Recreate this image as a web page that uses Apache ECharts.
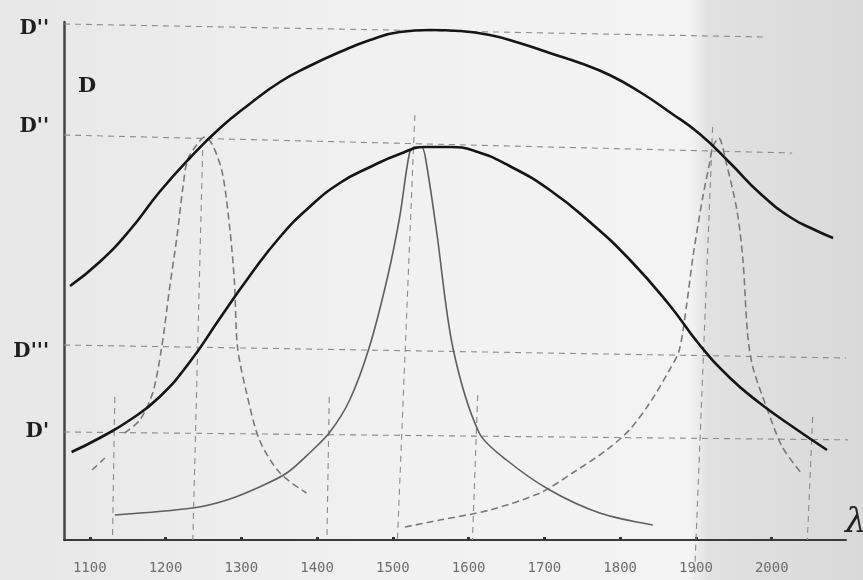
<!DOCTYPE html>
<html>
<head>
<meta charset="utf-8">
<script src="https://cdn.jsdelivr.net/npm/echarts@6/dist/echarts.min.js"></script>
<style>html,body{margin:0;padding:0;background:#ececec}#c{width:863px;height:580px}</style>
</head>
<body>
<div id="c"></div>
<script>
// ---- tick labels ----
const xTickValues = [1100, 1200, 1300, 1400, 1500, 1600, 1700, 1800, 1900, 2000];
const xTickLabels = ['1100', '1200', '1300', '1400', '1500', '1600', '1700', '1800', '1900', '2000'];
const yTickValues = [511, 413, 188, 108];
const yTickLabels = ["D''", "D''", "D'''", "D'"];

// ---- curves [lambda, D] ----
const upperCurve = [[1074,254],[1113,278],[1153,310],[1192,348],[1232,382],[1272,412],[1311,436],[1351,458],[1390,474],[1430,488],[1470,500],[1509,508],[1549,510],[1588,509],[1628,505],[1667,497],[1707,487],[1747,477],[1786,465],[1826,448],[1865,428],[1905,406],[1945,377],[1984,347],[2024,323],[2057,310],[2081,302]];
const lowerCurve = [[1076,88],[1113,102],[1153,120],[1192,143],[1232,178],[1272,222],[1311,264],[1351,303],[1390,333],[1430,357],[1470,373],[1509,386],[1542,393],[1575,393],[1608,389],[1654,374],[1707,350],[1760,318],[1813,280],[1865,235],[1905,195],[1945,162],[1984,137],[2030,112],[2073,90]];
const narrowPeak = [[1133,25],[1236,32],[1281,40],[1324,53],[1360,67],[1390,87],[1417,108],[1443,140],[1469,193],[1493,263],[1509,323],[1522,387],[1529,393],[1538,393],[1545,373],[1558,307],[1579,193],[1614,107],[1650,80],[1707,50],[1773,27],[1843,15]];
const dashedPeakLeft = [[1103,70],[1120,82],[1133,'-'],[1146,107],[1166,120],[1183,147],[1195,193],[1205,250],[1215,303],[1223,353],[1229,380],[1241,395],[1252,403],[1262,395],[1275,367],[1285,310],[1291,257],[1295,193],[1307,147],[1324,100],[1351,67],[1386,47]];
const dashedPeakRight = [[1516,13],[1562,20],[1628,30],[1694,47],[1737,67],[1782,90],[1812,110],[1839,137],[1865,170],[1878,190],[1888,237],[1896,283],[1909,343],[1918,377],[1922,393],[1930,402],[1940,377],[1954,330],[1962,280],[1968,207],[1975,173],[1993,133],[2014,93],[2039,67]];

// ---- guide lines [lambda0, D0, lambda1, D1] ----
const levelLines = [[1066,516,1991,503],[1066,405,2027,387],[1066,195,2098,182],[1066,108,2120,100]];
const dropLines = [[1133,143,1130,0],[1249,390,1236,0],[1416,143,1413,0],[1529,425,1506,0],[1612,145,1605,0],[1922,413,1898,-38],[2054,123,2047,0]];

const chart = echarts.init(document.getElementById('c'), null, {renderer: 'canvas'});
const yLabelMap = {};
yTickValues.forEach((v, i) => { yLabelMap[v] = yTickLabels[i]; });

const guideSeries = [];
levelLines.concat(dropLines).forEach(l => {
  guideSeries.push({
    type: 'line', data: [[l[0], l[1]], [l[2], l[3]]], symbol: 'none', clip: false, silent: true,
    lineStyle: {color: '#8a8a8a', width: 1.1, type: [6, 5]}, z: 1
  });
});

const curveStyle = (color, width, type) => ({color: color, width: width, type: type});

chart.setOption({
  backgroundColor: '#ececec',
  animation: false,
  graphic: [
    {type: 'rect', z: -10, silent: true, shape: {x: 0, y: 0, width: 863, height: 580},
     style: {fill: {type: 'linear', x: 0, y: 0, x2: 1, y2: 0, colorStops: [
       {offset: 0, color: '#e7e7e7'}, {offset: 0.45, color: '#f1f1f1'}, {offset: 0.8, color: '#f3f3f3'},
       {offset: 0.82, color: '#e1e1e1'}, {offset: 1, color: '#d9d9d9'}]}}},
    {type: 'text', left: 78, top: 76, z: 10, style: {text: 'D', font: 'bold 21px "DejaVu Serif"', fill: '#1e1e1e'}},
    {type: 'text', left: 845, top: 506, z: 10, style: {text: 'λ', font: 'italic 34px "DejaVu Serif"', fill: '#222'}}
  ],
  grid: {left: 64, right: 17, top: 22, bottom: 40, containLabel: false},
  xAxis: {
    type: 'value', min: 1066, max: 2098,
    axisLine: {show: true, lineStyle: {color: '#3a3a3a', width: 2}},
    axisTick: {show: true, customValues: xTickValues, length: 3, inside: true, lineStyle: {color: '#333', width: 3}},
    axisLabel: {customValues: xTickValues, formatter: (v) => xTickLabels[xTickValues.indexOf(v)],
      margin: 21, fontSize: 14, fontFamily: 'DejaVu Sans Mono', color: '#6e6e6e'},
    splitLine: {show: false}
  },
  yAxis: {
    type: 'value', min: 0, max: 518,
    axisLine: {show: true, lineStyle: {color: '#444', width: 2.5}},
    axisTick: {show: false},
    axisLabel: {customValues: yTickValues, formatter: (v) => yLabelMap[v], margin: 15,
      fontSize: 20, fontWeight: 'bold', fontFamily: 'DejaVu Serif', color: '#1e1e1e'},
    splitLine: {show: false}
  },
  series: guideSeries.concat([
    {type: 'line', data: upperCurve, smooth: 0.5, symbol: 'none', lineStyle: curveStyle('#151515', 2.6, 'solid'), z: 5},
    {type: 'line', data: lowerCurve, smooth: 0.5, symbol: 'none', lineStyle: curveStyle('#151515', 2.6, 'solid'), z: 5},
    {type: 'line', data: narrowPeak, smooth: 0.3, symbol: 'none', lineStyle: curveStyle('#5e5e5e', 1.6, 'solid'), z: 4},
    {type: 'line', data: dashedPeakLeft, smooth: 0.3, symbol: 'none', connectNulls: false, lineStyle: curveStyle('#7a7a7a', 1.6, [7, 4]), z: 3},
    {type: 'line', data: dashedPeakRight, smooth: 0.3, symbol: 'none', lineStyle: curveStyle('#7a7a7a', 1.6, [7, 4]), z: 3}
  ])
});
</script>
</body>
</html>
